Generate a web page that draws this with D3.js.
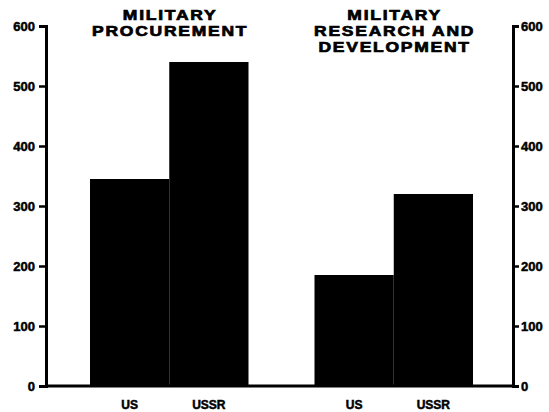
<!DOCTYPE html>
<html>
<head>
<meta charset="utf-8">
<script src="https://cdn.jsdelivr.net/npm/d3@7"></script>
<style>
  html, body { margin: 0; padding: 0; background: #fff; }
  svg { display: block; }
  text { font-family: "Liberation Sans", Arial, Helvetica, sans-serif; font-weight: bold; fill: #000; }
</style>
</head>
<body>
<svg id="chart" width="549" height="412"></svg>
<script>
// Spending categories and the two countries compared in each
const groups = ["procurement", "rnd"];
const groupTitles = [["MILITARY", "PROCUREMENT"], ["MILITARY", "RESEARCH AND", "DEVELOPMENT"]];
const countries = ["US", "USSR"];
const procurementValues = [345, 540];
const rndValues = [185, 320];
const yTicks = [0, 100, 200, 300, 400, 500, 600];

const seriesByGroup = { procurement: procurementValues, rnd: rndValues };

const svg = d3.select("#chart");
const axisLeftX = 46, axisRightX = 513;
const yTop = 26, yBase = 386;

const y = d3.scaleLinear().domain([0, 600]).range([yBase, yTop]);

const xGroup = d3.scaleBand().domain(groups).range([90, 473]).paddingInner(0.294).paddingOuter(0);
const xCountry = d3.scaleBand().domain(countries).range([0, xGroup.bandwidth()]).padding(0);

// Bars and country labels
groups.forEach(grp => {
  const gg = svg.append("g").attr("transform", `translate(${xGroup(grp)},0)`);
  gg.selectAll("rect")
    .data(countries.map((c, i) => ({ c, v: seriesByGroup[grp][i] })))
    .join("rect")
    .attr("x", d => xCountry(d.c))
    .attr("y", d => y(d.v))
    .attr("width", xCountry.bandwidth())
    .attr("height", d => y(0) - y(d.v))
    .attr("fill", "#000");

  gg.selectAll("text.cat")
    .data(countries)
    .join("text")
    .attr("class", "cat")
    .attr("x", d => xCountry(d) + xCountry.bandwidth() / 2)
    .attr("y", 409)
    .attr("text-anchor", "middle")
    .attr("font-size", 12)
    .attr("stroke", "#000").attr("stroke-width", 0.5)
    .text(d => d);
});

// Group titles, set in a wide heavy face
groups.forEach((grp, gi) => {
  const cx = xGroup(grp) + xGroup.bandwidth() / 2;
  const tg = svg.append("g").attr("transform", `translate(${cx},0) scale(1.25,1)`);
  groupTitles[gi].forEach((line, li) => {
    tg.append("text")
      .attr("x", 0.7)
      .attr("y", 20 + li * 15.8)
      .attr("text-anchor", "middle")
      .attr("font-size", 14)
      .attr("letter-spacing", 1.4)
      .attr("stroke", "#000").attr("stroke-width", 0.7)
      .text(line);
  });
});

// Axes
function styleAxis(sel) {
  sel.attr("font-family", null).attr("font-size", null);
  sel.selectAll("path.domain").attr("stroke-width", 3).attr("stroke", "#000");
  sel.selectAll(".tick line").attr("stroke-width", 2.5).attr("stroke", "#000");
  sel.selectAll(".tick text")
    .attr("font-size", 13)
    .attr("stroke", "#000").attr("stroke-width", 0.5);
}

svg.append("g")
  .attr("transform", `translate(${axisLeftX},0)`)
  .call(d3.axisLeft(y).tickValues(yTicks).tickSize(7).tickPadding(4).tickFormat(d3.format("d")))
  .call(styleAxis);

svg.append("g")
  .attr("transform", `translate(${axisRightX},0)`)
  .call(d3.axisRight(y).tickValues(yTicks).tickSize(6).tickPadding(2).tickFormat(d3.format("d")))
  .call(styleAxis);

// Baseline
svg.append("line")
  .attr("x1", axisLeftX).attr("x2", axisRightX)
  .attr("y1", y(0)).attr("y2", y(0))
  .attr("stroke", "#000").attr("stroke-width", 3);
</script>
</body>
</html>
